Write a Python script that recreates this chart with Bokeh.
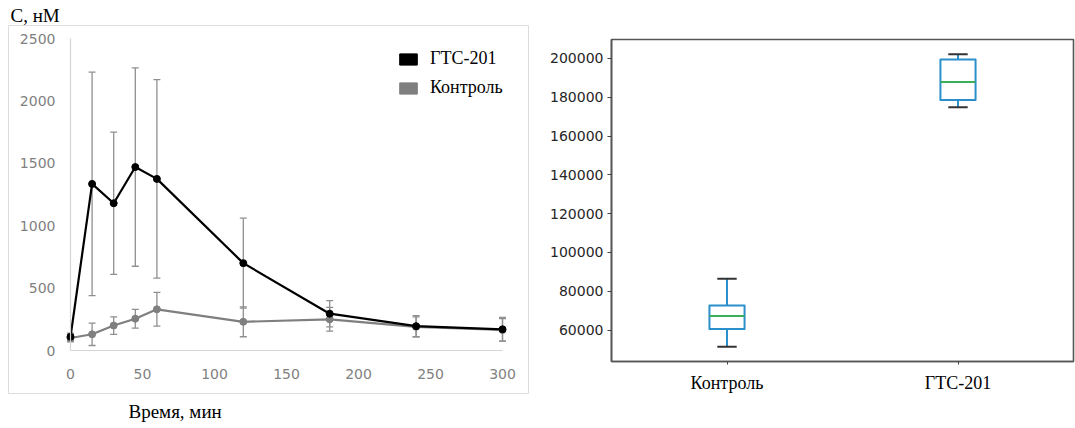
from bokeh.plotting import figure
from bokeh.layouts import row, column
from bokeh.models import (ColumnDataSource, Range1d, FactorRange, LinearAxis, FixedTicker,
                          Whisker, TeeHead, Legend, LegendItem, Title, BasicTickFormatter)
from bokeh.transform import dodge
from bokeh.embed import file_html
from bokeh.resources import INLINE

# ---------------- data ----------------
time_min = [0, 15, 30, 45, 60, 120, 180, 240, 300]
gts_mean = [110, 1335, 1180, 1470, 1375, 700, 295, 195, 170]
gts_sd = [30, 895, 570, 795, 795, 360, 105, 85, 95]
ctrl_mean = [100, 130, 200, 255, 330, 230, 250, 190, 165]
ctrl_sd = [30, 90, 70, 75, 135, 120, 95, 80, 90]
x_ticks = [0, 50, 100, 150, 200, 250, 300]
y_ticks = [0, 500, 1000, 1500, 2000, 2500]
series_names = ["ГТС-201", "Контроль"]

box_groups = ["Контроль", "ГТС-201"]
box_low = [51350, 174800]
box_q1 = [60500, 178600]
box_med = [67250, 187900]
box_q3 = [72700, 199400]
box_high = [86400, 202200]
box_ticks = [60000, 80000, 100000, 120000, 140000, 160000, 180000, 200000]

NAN = float("nan")

# ---------------- left chart ----------------
LW, LH = 540, 428
B_L, B_T, B_R, B_B = 8, 25, 12, 35
frame_w = LW - B_L - B_R
frame_h = LH - B_T - B_B
# pixel layout inside the (outer) frame
x0px, x1px = 62, 494      # where x=0 and x=last tick sit
y0px, y1px = 325, 13      # where y=0 and y=last tick sit (from top)
xmax, ymax = x_ticks[-1], y_ticks[-1]
sx = (x1px - x0px) / xmax
sy = (y0px - y1px) / ymax
xr = Range1d(-x0px / sx, xmax + (frame_w - x1px) / sx)
yr = Range1d(-(frame_h - y0px) / sy, ymax + y1px / sy)

p = figure(width=LW, height=LH, x_range=xr, y_range=yr, output_backend="svg",
           toolbar_location=None, x_axis_type=None, y_axis_type=None,
           min_border_left=B_L, min_border_right=B_R, min_border_top=B_T,
           min_border_bottom=B_B)
p.outline_line_color = "#dcdcdc"
p.outline_line_width = 1
p.background_fill_color = "white"
p.border_fill_color = "white"

AX_COL = "#d4d4d4"
LBL_COL = "#7f7f7f"
xa = LinearAxis(fixed_location=0, bounds=(0, xmax), ticker=FixedTicker(ticks=x_ticks),
                axis_line_color=AX_COL, axis_line_width=1.2,
                major_tick_line_color=None, minor_tick_line_color=None,
                major_tick_out=0, major_tick_in=0,
                major_label_text_font="DejaVu Sans", major_label_text_font_size="14px",
                major_label_text_color=LBL_COL, major_label_standoff=18)
ya = LinearAxis(fixed_location=0, bounds=(0, ymax), ticker=FixedTicker(ticks=y_ticks),
                axis_line_color=AX_COL, axis_line_width=1.2,
                major_tick_line_color=None, minor_tick_line_color=None,
                major_tick_out=0, major_tick_in=0,
                major_label_text_font="DejaVu Sans", major_label_text_font_size="14px",
                major_label_text_color=LBL_COL, major_label_standoff=15)
p.add_layout(xa, "below")
p.add_layout(ya, "left")

p.add_layout(Title(text="С, нМ", align="left", offset=2, text_font="Liberation Serif",
                   text_font_size="19px", text_font_style="normal", text_color="black",
                   standoff=0), "above")
p.add_layout(Title(text="Время, мин", align="left", offset=120, text_font="Liberation Serif",
                   text_font_size="19px", text_font_style="normal", text_color="black",
                   standoff=10), "below")

src = ColumnDataSource(dict(
    t=time_min,
    gm=gts_mean, glo=[m - s for m, s in zip(gts_mean, gts_sd)], ghi=[m + s for m, s in zip(gts_mean, gts_sd)],
    cm=ctrl_mean, clo=[m - s for m, s in zip(ctrl_mean, ctrl_sd)], chi=[m + s for m, s in zip(ctrl_mean, ctrl_sd)],
))
ERR = "#8f8f8f"
for lo, hi in (("clo", "chi"), ("glo", "ghi")):
    w = Whisker(base="t", lower=lo, upper=hi, source=src, line_color=ERR, line_width=1.3,
                upper_head=TeeHead(size=7, line_color=ERR, line_width=1.3),
                lower_head=TeeHead(size=7, line_color=ERR, line_width=1.3), level="underlay")
    p.add_layout(w)

GRAY = "#7f7f7f"
p.line("t", "cm", source=src, line_color=GRAY, line_width=2.2)
p.scatter("t", "cm", source=src, size=7, fill_color=GRAY, line_color=GRAY)
p.line("t", "gm", source=src, line_color="black", line_width=2.2)
p.scatter("t", "gm", source=src, size=7, fill_color="black", line_color="black")

# legend-only renderers (no visible data)
sq_g = p.rect(x=[NAN], y=[NAN], width=1, height=1, fill_color="black", line_color="black")
sq_c = p.rect(x=[NAN], y=[NAN], width=1, height=1, fill_color=GRAY, line_color=GRAY)
legend = Legend(items=[LegendItem(label=series_names[0], renderers=[sq_g]),
                       LegendItem(label=series_names[1], renderers=[sq_c])],
                location=(389, 295), orientation="vertical", glyph_width=22, glyph_height=14,
                label_standoff=11, spacing=8, padding=0, margin=0, border_line_color=None,
                background_fill_alpha=0, label_text_font="Liberation Serif",
                label_text_font_size="18px", label_text_color="black")
p.add_layout(legend)

# ---------------- right chart ----------------
RW, RH = 535, 428
lo_all, hi_all = min(box_low), max(box_high)
pad = 0.05 * (hi_all - lo_all)
rp = figure(width=RW, height=RH, x_range=FactorRange(factors=box_groups),
            y_range=Range1d(lo_all - pad, hi_all + pad), output_backend="svg",
            toolbar_location=None, min_border_left=71, min_border_right=2,
            min_border_top=39, min_border_bottom=67)
rp.grid.visible = False
rp.outline_line_color = "#555555"
rp.outline_line_width = 1.6
rp.background_fill_color = "white"
rp.border_fill_color = "white"

rp.yaxis.ticker = FixedTicker(ticks=box_ticks)
rp.yaxis.formatter = BasicTickFormatter(use_scientific=False)
rp.yaxis.major_label_text_font = "DejaVu Sans"
rp.yaxis.major_label_text_font_size = "14px"
rp.yaxis.major_label_text_color = "#262626"
rp.yaxis.major_tick_out = 4
rp.yaxis.major_tick_in = 0
rp.yaxis.minor_tick_line_color = None
rp.yaxis.major_label_standoff = 4
rp.xaxis.major_label_text_font = "Liberation Serif"
rp.xaxis.major_label_text_font_size = "18px"
rp.xaxis.major_label_text_color = "black"
rp.xaxis.major_tick_out = 3
rp.xaxis.major_tick_in = 0
rp.xaxis.major_label_standoff = 8
for ax in (rp.xaxis, rp.yaxis):
    ax.axis_line_color = "#555555"
    ax.axis_line_width = 1.6
    ax.major_tick_line_color = "#444444"
    ax.major_tick_line_width = 1

BLUE = "#2a8fcb"
GREEN = "#3aae5a"
bsrc = ColumnDataSource(dict(g=box_groups, low=box_low, q1=box_q1, med=box_med,
                             q3=box_q3, high=box_high))
BOX_W = 0.152
CAP_W = 0.084
rp.segment(x0="g", y0="q3", x1="g", y1="high", source=bsrc, line_color=BLUE, line_width=2)
rp.segment(x0="g", y0="low", x1="g", y1="q1", source=bsrc, line_color=BLUE, line_width=2)
for col in ("high", "low"):
    rp.segment(x0=dodge("g", -CAP_W / 2, range=rp.x_range), y0=col,
               x1=dodge("g", CAP_W / 2, range=rp.x_range), y1=col,
               source=bsrc, line_color="#333333", line_width=2)
rp.vbar(x="g", top="q3", bottom="q1", width=BOX_W, source=bsrc, fill_color=None,
        line_color=BLUE, line_width=2, line_join="round")
rp.segment(x0=dodge("g", -BOX_W / 2, range=rp.x_range), y0="med",
           x1=dodge("g", BOX_W / 2, range=rp.x_range), y1="med",
           source=bsrc, line_color=GREEN, line_width=2)

layout = row(column(p), column(rp))
open("out.html", "w").write(file_html(layout, INLINE))
